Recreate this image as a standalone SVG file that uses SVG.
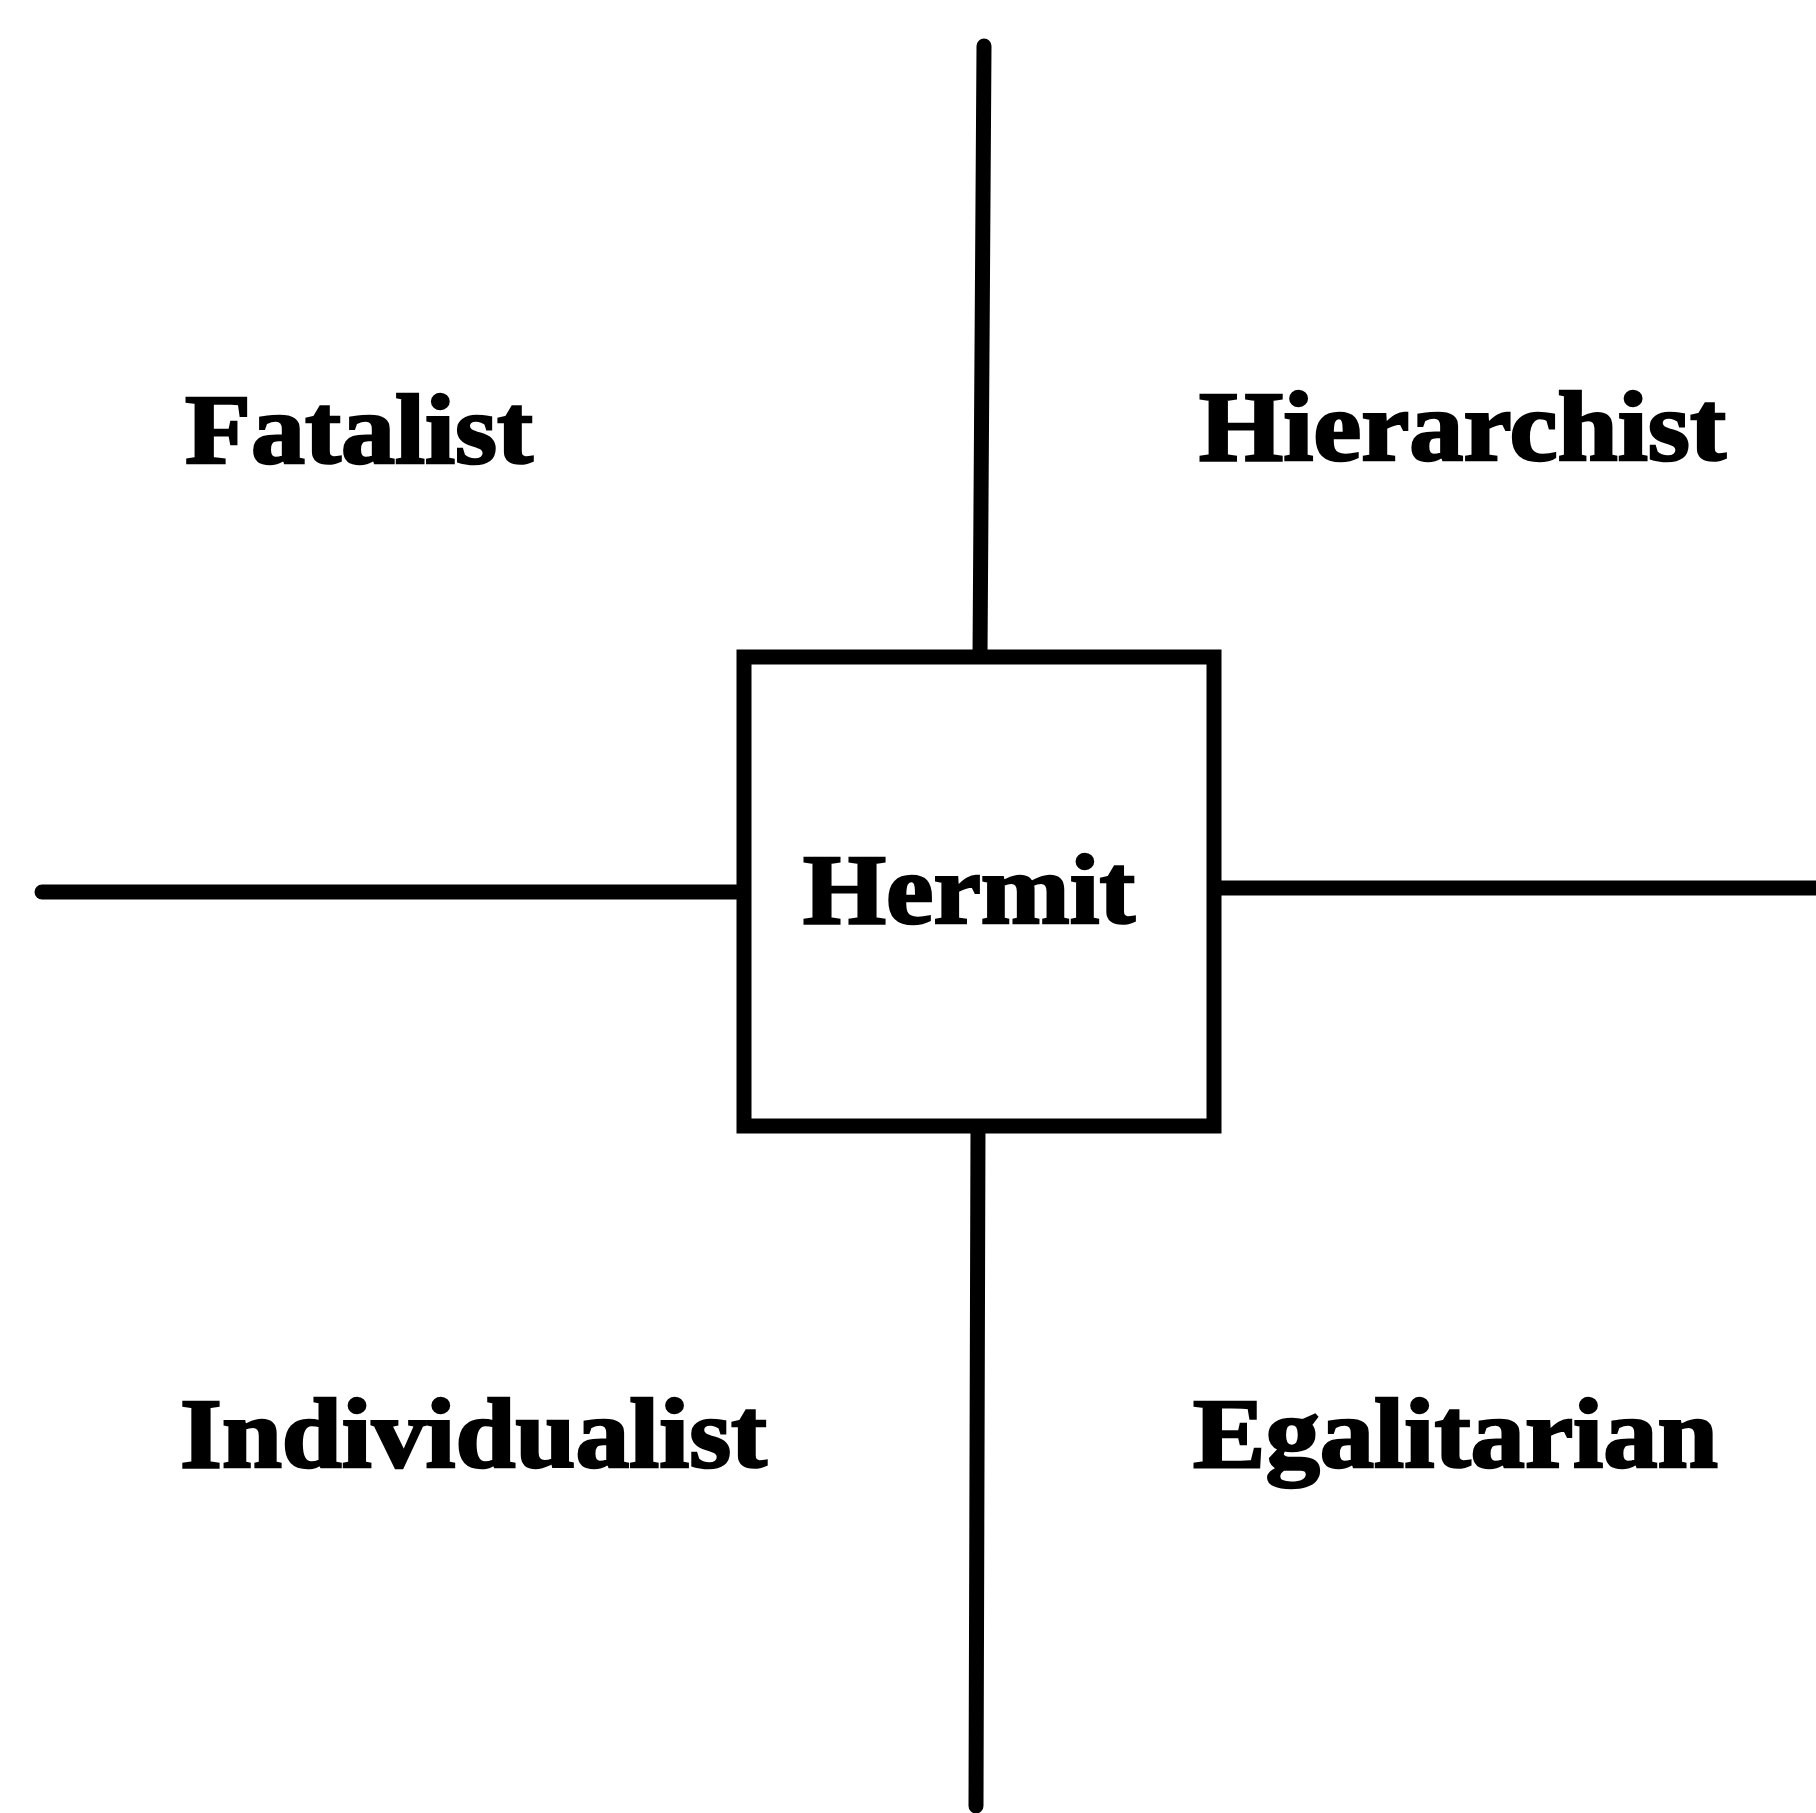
<svg xmlns="http://www.w3.org/2000/svg" width="1816" height="1813" viewBox="0 0 1816 1813">
<style>
.ln{stroke:#000;stroke-width:15;stroke-linecap:round;fill:none}
.bx{stroke:#000;stroke-width:15;fill:#fff}
.lb{font-family:"Liberation Serif","Times New Roman",serif;font-weight:bold;font-size:100px;fill:#000;stroke:#000;stroke-width:2.5}
</style>
<rect width="1816" height="1813" fill="#fff"/>
<g id="connectors">
<line class="ln" x1="984" y1="46" x2="980" y2="657"/>
<line class="ln" x1="42" y1="892" x2="744" y2="892"/>
<line class="ln" x1="1214" y1="888" x2="1816" y2="888"/>
<line class="ln" x1="978" y1="1126" x2="976" y2="1806"/>
</g>
<g id="hermit">
<rect class="bx" x="744" y="657" width="470" height="469"/>
<text class="lb" x="803" y="923" textLength="332" lengthAdjust="spacingAndGlyphs">Hermit</text>
</g>
<g id="fatalist"><text class="lb" x="185" y="463" textLength="348" lengthAdjust="spacingAndGlyphs">Fatalist</text></g>
<g id="hierarchist"><text class="lb" x="1199" y="460" textLength="527" lengthAdjust="spacingAndGlyphs">Hierarchist</text></g>
<g id="individualist"><text class="lb" x="180" y="1467" textLength="587" lengthAdjust="spacingAndGlyphs">Individualist</text></g>
<g id="egalitarian"><text class="lb" x="1193" y="1467" textLength="525" lengthAdjust="spacingAndGlyphs">Egalitarian</text></g>
</svg>
